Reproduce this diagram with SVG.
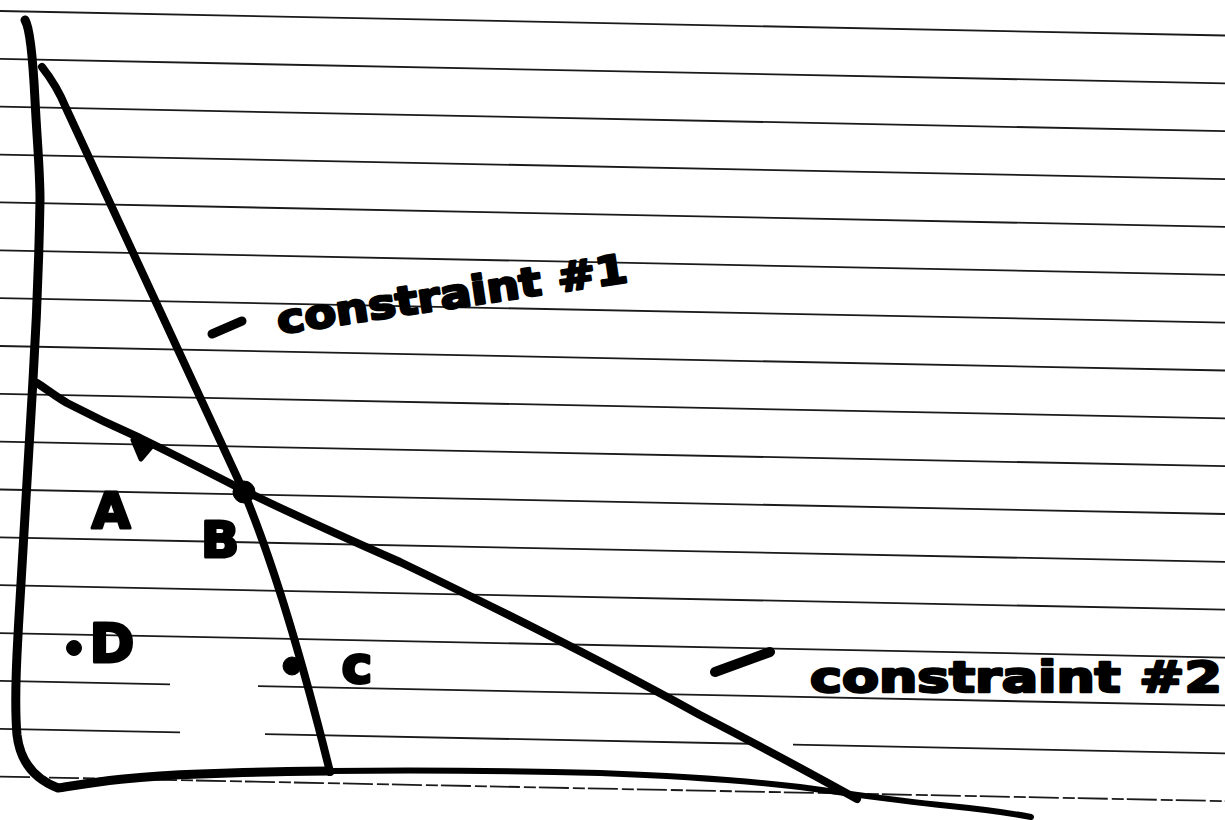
<svg xmlns="http://www.w3.org/2000/svg" width="1225" height="820" viewBox="0 0 1225 820">
  <style>
    .rule { stroke: #1a1a1a; stroke-width: 1.8; fill: none; }
    .ink { stroke: #000; fill: none; stroke-linecap: round; stroke-linejoin: round; }
    .blob { fill: #000; stroke: #000; stroke-linejoin: round; }
    .lbl { font-family: "DejaVu Sans", "Liberation Sans", sans-serif; font-weight: bold; fill: #000; stroke: #000; stroke-width: 3; stroke-linejoin: round; }
    .hand { font-family: "DejaVu Sans", "Liberation Sans", sans-serif; font-weight: bold; fill: #000; stroke: #000; stroke-width: 2.5; stroke-linejoin: round; }
  </style>
  <rect x="0" y="0" width="1225" height="820" fill="#fff"/>

  <g id="paper-lines">
    <line class="rule" x1="0" y1="11" x2="1225" y2="35.5"/>
    <line class="rule" x1="0" y1="58.9" x2="1225" y2="83.4"/>
    <line class="rule" x1="0" y1="106.7" x2="1225" y2="131.2"/>
    <line class="rule" x1="0" y1="154.6" x2="1225" y2="179.1"/>
    <line class="rule" x1="0" y1="202.4" x2="1225" y2="226.9"/>
    <line class="rule" x1="0" y1="250.3" x2="1225" y2="274.8"/>
    <line class="rule" x1="0" y1="298.1" x2="1225" y2="322.6"/>
    <line class="rule" x1="0" y1="346" x2="1225" y2="370.5"/>
    <line class="rule" x1="0" y1="393.8" x2="1225" y2="418.3"/>
    <line class="rule" x1="0" y1="441.7" x2="1225" y2="466.2"/>
    <line class="rule" x1="0" y1="489.5" x2="1225" y2="514"/>
    <line class="rule" x1="0" y1="537.4" x2="1225" y2="561.9"/>
    <line class="rule" x1="0" y1="585.2" x2="1225" y2="609.7"/>
    <line class="rule" x1="0" y1="633.1" x2="1225" y2="657.6"/>
    <line class="rule" x1="0" y1="680.9" x2="170" y2="684.3"/>
    <line class="rule" x1="258" y1="686.1" x2="1225" y2="705.4"/>
    <line class="rule" x1="0" y1="728.8" x2="180" y2="732.4"/>
    <line class="rule" x1="265" y1="734.1" x2="762" y2="744"/>
    <line class="rule" x1="793" y1="744.6" x2="1225" y2="753.3"/>
    <line class="rule" x1="0" y1="776.6" x2="1225" y2="801.1" stroke-dasharray="30 4 12 3"/>
  </g>

  <g id="connectors">
    <path id="axis" class="ink" stroke-width="9" d="M25,20 C30,28 33,60 35,100 C37,140 40,170 40,200 C39,260 36,330 33,380 C29,450 24,530 20,600 C17,650 14,700 17,735 C20,760 32,778 58,788 C85,784 130,776 200,774 C260,772 300,771 330,771"/>
    <path id="baseline" class="ink" stroke-width="6" d="M330,771 C420,770 520,771 600,773 C680,776 740,780 800,787 C840,792 880,799 950,806 C990,810 1010,813 1031,817"/>
    <path id="constraint1" class="ink" stroke-width="8" d="M42,67 Q57,86 66,108 L243,490 Q285,590 330,772"/>
    <path id="constraint2" class="ink" stroke-width="8" d="M37,383 C45,388 55,396 67,403 C90,415 115,427 140,438 C175,455 210,473 243,490 C300,518 350,540 400,562 C500,610 600,660 700,715 C760,746 810,773 857,799"/>
  </g>

  <g id="point-A">
    <path class="blob" stroke-width="5" d="M133,440 L152,446 L141,459 Z"/>
    <text class="lbl" x="111" y="528" font-size="50" text-anchor="middle">A</text>
  </g>

  <g id="point-B">
    <circle class="blob" cx="244" cy="492" r="11"/>
    <text class="lbl" x="220" y="557" font-size="50" text-anchor="middle">B</text>
  </g>

  <g id="point-C">
    <circle class="blob" cx="292" cy="666" r="9"/>
    <text class="lbl" x="357" y="683" font-size="52" text-anchor="middle">c</text>
  </g>

  <g id="point-D">
    <circle class="blob" cx="74" cy="648" r="7.5"/>
    <text class="lbl" x="112" y="662" font-size="54" text-anchor="middle">D</text>
  </g>

  <g id="label-constraint1">
    <line class="ink" stroke-width="9" x1="212" y1="334" x2="242" y2="321"/>
    <text class="hand" transform="translate(279,334) rotate(-8.5)" x="0" y="0" font-size="40" textLength="354" lengthAdjust="spacingAndGlyphs">constraint #1</text>
  </g>

  <g id="label-constraint2">
    <line class="ink" stroke-width="10" x1="715" y1="672" x2="770" y2="652"/>
    <text class="hand" x="810" y="692" font-size="42" textLength="412" lengthAdjust="spacingAndGlyphs">constraint #2</text>
  </g>
</svg>
